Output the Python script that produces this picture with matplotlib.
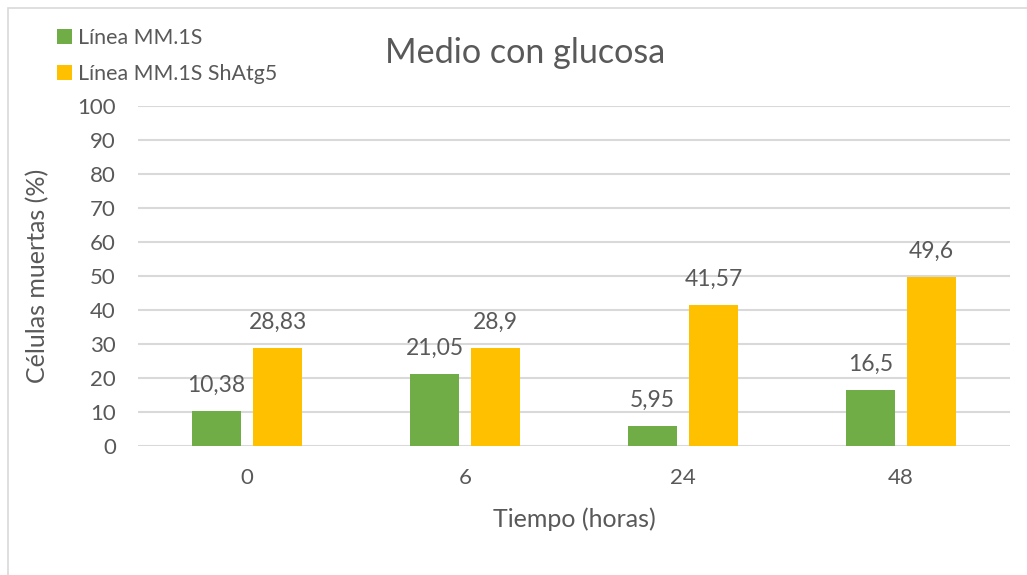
import numpy as np
import matplotlib
matplotlib.use("Agg")
import matplotlib.pyplot as plt
from matplotlib.patches import Rectangle

# data
tiempos = ["0", "6", "24", "48"]
linea_mm1s = [10.38, 21.05, 5.95, 16.5]
linea_shatg5 = [28.83, 28.9, 41.57, 49.6]
series_names = ["Línea MM.1S", "Línea MM.1S ShAtg5"]

GREEN = "#70ad47"
YELLOW = "#ffc000"
TEXT = "#595959"
GRID = "#d9d9d9"

plt.rcParams["font.family"] = ["Lato", "DejaVu Sans"]


def fmt(v):
    return ("%g" % v).replace(".", ",")


def main():
    fig = plt.figure(figsize=(10.27, 5.75), dpi=100)
    # chart frame (only top/left visible in the crop)
    fig.patches.append(Rectangle((8 / 1027, -0.1), 1.2, 1 - 8 / 575 + 0.1,
                                 transform=fig.transFigure, fill=False,
                                 edgecolor=GRID, linewidth=1.2))

    ax = fig.add_axes([138 / 1027, 1 - 446 / 575, 872 / 1027, 340 / 575])
    x = np.arange(len(tiempos))
    w = 0.225
    off = 0.14
    b1 = ax.bar(x - off, linea_mm1s, w, color=GREEN, label=series_names[0], zorder=3)
    b2 = ax.bar(x + off, linea_shatg5, w, color=YELLOW, label=series_names[1], zorder=3)

    for bars, vals in ((b1, linea_mm1s), (b2, linea_shatg5)):
        for rect, v in zip(bars, vals):
            ax.annotate(fmt(v), (rect.get_x() + rect.get_width() / 2, v),
                        xytext=(0, 11), textcoords="offset points",
                        ha="center", va="bottom", fontsize=16.5, color=TEXT)

    ax.set_xlim(-0.5, 3.5)
    ax.set_ylim(0, 100)
    ax.set_yticks(np.arange(0, 101, 10))
    ax.set_xticks(x)
    ax.set_xticklabels(tiempos)
    ax.tick_params(length=0, labelsize=16, labelcolor=TEXT)
    ax.tick_params(axis="y", pad=16)
    ax.tick_params(axis="x", pad=16)
    ax.grid(axis="y", color=GRID, linewidth=1.5, zorder=0)
    for s in ax.spines.values():
        s.set_visible(False)

    ax.set_ylabel("Células muertas (%)", fontsize=18, color=TEXT, labelpad=20)
    ax.set_xlabel("Tiempo (horas)", fontsize=18, color=TEXT, labelpad=14)
    fig.text(525 / 1027, 1 - 53 / 575, "Medio con glucosa", fontsize=24.6,
             color=TEXT, ha="center", va="center")

    fig.legend(handles=[b1, b2], loc="upper left",
               bbox_to_anchor=(38 / 1027, 1 - 9 / 575), frameon=False,
               fontsize=15.4, labelcolor=TEXT, handlelength=0.7, handleheight=0.7,
               handletextpad=0.25, labelspacing=0.75)

    fig.savefig("out.png", dpi=100)


if __name__ == "__main__":
    main()
